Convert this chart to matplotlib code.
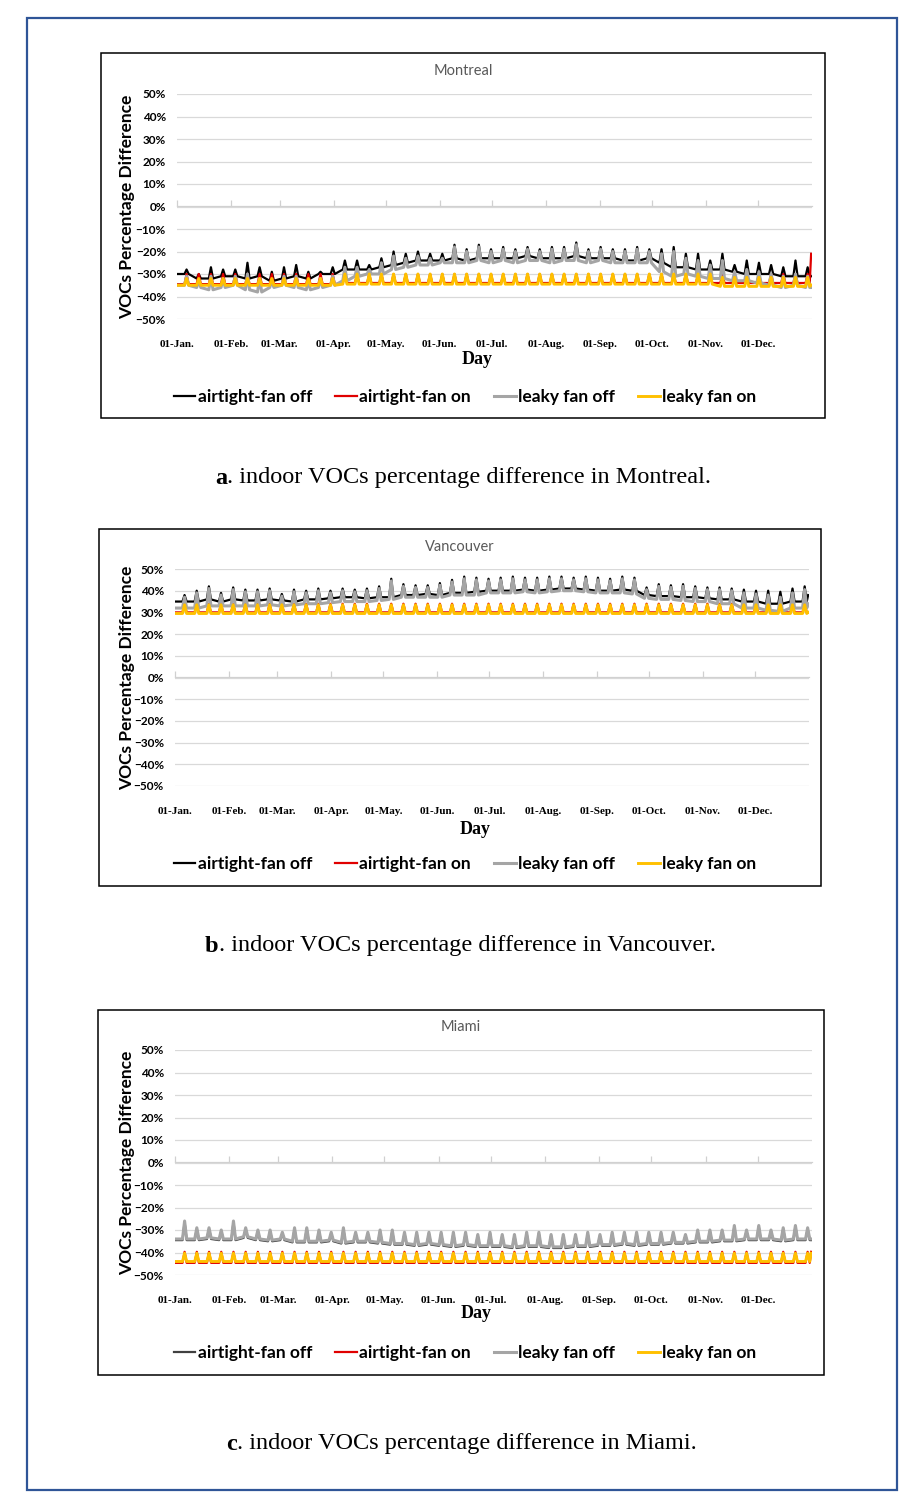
import numpy as np
import matplotlib
matplotlib.use("Agg")
import matplotlib.pyplot as plt
from matplotlib.patches import Rectangle

W, H = 915, 1509

# x axis: day of year, labels at the first day of each month
month_days = [0, 31, 59, 90, 120, 151, 181, 212, 243, 273, 304, 334]
month_labels = ['01-Jan.', '01-Feb.', '01-Mar.', '01-Apr.', '01-May.', '01-Jun.',
                '01-Jul.', '01-Aug.', '01-Sep.', '01-Oct.', '01-Nov.', '01-Dec.']
y_ticks = [-50, -40, -30, -20, -10, 0, 10, 20, 30, 40, 50]
y_labels = ['\u221250%', '\u221240%', '\u221230%', '\u221220%', '\u221210%', '0%',
            '10%', '20%', '30%', '40%', '50%']
series_names = ['airtight-fan off', 'airtight-fan on', 'leaky fan off', 'leaky fan on']

# ---- Montreal: weekly trough / peak values (%), 52 weeks ----
mtl_off_trough = [-30, -32, -32, -31, -31, -32, -31, -33, -32, -31, -32, -30, -30,
                  -28, -28, -28, -27, -26, -25, -24, -24, -24, -23, -24, -23, -23,
                  -23, -23, -22, -23, -23, -23, -22, -23, -23, -23, -24, -24, -23,
                  -25, -27, -27, -28, -28, -28, -29, -30, -30, -30, -31, -31, -31]
mtl_off_peak = [-28, -30, -27, -28, -28, -25, -27, -29, -27, -26, -29, -29, -27,
                -24, -24, -26, -23, -20, -21, -20, -21, -21, -17, -19, -17, -19,
                -18, -19, -18, -19, -18, -18, -16, -19, -18, -19, -19, -18, -19,
                -19, -18, -21, -21, -24, -21, -26, -24, -25, -26, -27, -24, -27]
mtl_on_trough = [-34.5, -34.5, -34.5, -34.5, -34.5, -34.5, -34.5, -34.5, -34.5, -34.5, -34.5, -34.5, -34.5,
                 -34, -34, -34, -34, -34, -34, -34, -34, -34, -34, -34, -34, -34,
                 -34, -34, -34, -34, -34, -34, -34, -34, -34, -34, -34, -34, -34,
                 -34, -34, -34, -34, -34, -34, -34, -34, -34, -34, -34, -34, -34]
mtl_on_peak = -30
mtl_leaky_off_trough = [-35, -36, -37, -36, -35, -37, -38, -36, -35, -36, -37, -36, -35,
                        -33, -31, -30, -30, -28, -27, -26, -26, -25, -25, -25, -24, -25,
                        -24, -25, -24, -24, -25, -24, -24, -25, -24, -25, -25, -25, -25,
                        -29, -31, -30, -31, -32, -32, -33, -33, -34, -35, -36, -35, -36]
mtl_leaky_off_peak = [-31, -33, -31, -32, -31, -30, -32, -33, -31, -31, -33, -32, -31,
                      -27, -27, -28, -25, -22, -23, -22, -23, -23, -18, -20, -18, -20,
                      -19, -20, -19, -20, -19, -19, -17, -20, -19, -20, -20, -19, -20,
                      -21, -20, -23, -24, -26, -24, -29, -28, -29, -30, -31, -30, -31]
mtl_leaky_on_trough = [-35, -35, -35, -35, -35, -35, -35, -35, -35, -35, -35, -35, -35,
                       -34.5, -34.5, -34.5, -34.5, -34.5, -34.5, -34.5, -34.5, -34.5, -34.5, -34.5, -34.5, -34.5,
                       -34.5, -34.5, -34.5, -34.5, -34.5, -34.5, -34.5, -34.5, -34.5, -34.5, -34.5, -34.5, -34.5,
                       -34.5, -34.5, -34.5, -34.5, -34.5, -35.5, -35.5, -35.5, -35.5, -35.5, -35.5, -35.5, -35.5]
mtl_leaky_on_peak = [-32, -32, -32, -32, -32, -32, -32, -32, -32, -32, -32, -32, -32,
                     -30, -30, -30, -30, -30, -30, -30, -30, -30, -30, -30, -30, -30,
                     -30, -30, -30, -30, -30, -30, -30, -30, -30, -30, -30, -30, -30,
                     -30, -30, -30, -30, -30, -31.5, -31.5, -31.5, -31.5, -31.5, -31.5, -31.5, -31.5]
mtl_end = [-31, -21, -36, -35]

# ---- Vancouver ----
van_off_trough = [35, 35, 36, 35, 36, 35.5, 35.5, 36, 35.5, 35, 36, 36, 36.5,
                  37, 37, 36.5, 37, 37, 38, 38, 38.5, 38, 39, 39, 39.5, 40,
                  40, 40, 40.5, 40, 40.5, 41, 41, 40.5, 40, 40, 40.5, 40, 38,
                  37.5, 37.5, 37, 37, 36.5, 36, 36, 35, 35, 34, 34, 35, 35]
van_off_peak = [38, 40, 42, 39, 41.5, 40.5, 40.5, 41, 38.5, 40.5, 40, 41, 40,
                41, 40.5, 41, 42, 45.5, 43, 42.5, 42.5, 43.5, 45, 46.5, 46, 45.5,
                46, 46.5, 46, 46, 46.5, 46.5, 46, 46.5, 46, 45.5, 46.5, 46, 41.5,
                43, 42.5, 43, 42, 41.5, 41.5, 41, 40.5, 40, 40, 39.5, 41, 42]
van_on_trough = 30
van_on_peak = 34
van_leaky_off_trough = [32, 32, 33, 33, 33, 33, 33, 33.5, 33, 33.5, 34, 34, 34.5,
                        35, 35, 35, 35.5, 36, 37, 37, 37, 37, 38, 38, 38, 39,
                        39, 39, 39.5, 39, 39.5, 40, 40, 39.5, 39, 39, 39, 38.5, 36.5,
                        36, 36, 35.5, 35, 35, 34, 34, 32, 32, 31, 30.5, 32, 32]
van_leaky_off_peak = [37, 39, 41, 38, 40.5, 39.5, 39.5, 40, 37.5, 39.5, 39, 40, 39,
                      40, 39.5, 40, 41, 44.5, 42, 41.5, 41.5, 42.5, 44, 45.5, 45, 44.5,
                      45, 45.5, 45, 45, 45.5, 45.5, 45, 45.5, 45, 44.5, 45.5, 45, 40.5,
                      42, 41.5, 42, 41, 40.5, 40.5, 40, 39, 38.5, 38, 37, 39, 40.5]
van_leaky_on_trough = 29.5
van_leaky_on_peak = 33.5
van_end = [38, 30, 34, 30]

# ---- Miami ----
mia_off_trough = [-34.5, -34.5, -34, -34.5, -34.5, -33.5, -34.5, -35, -34.5, -35.5, -35.5, -35.5, -35,
                  -36, -35.5, -35.5, -36, -36.5, -36.5, -37, -36.5, -37, -37.5, -37, -37.5, -37.5,
                  -37.5, -38, -37.5, -37.5, -38, -38, -37.5, -37.5, -37, -37, -36.5, -37, -36.5,
                  -36.5, -36, -36, -35.5, -35.5, -35, -35, -34.5, -34.5, -34.5, -35, -34.5, -34.5]
mia_off_peak = [-26.5, -29.5, -29.5, -30.5, -26.5, -29.5, -30.5, -30.5, -31.5, -29.5, -29.5, -30.5, -31.5,
                -29.5, -31.5, -31.5, -30.5, -30.5, -31.5, -31.5, -31.5, -31.5, -31.5, -31.5, -32.5, -31.5,
                -32.5, -32.5, -31.5, -31.5, -32.5, -32.5, -32.5, -31.5, -32.5, -31.5, -31.5, -31.5, -31.5,
                -31.5, -31.5, -32.5, -30.5, -30.5, -30.5, -28.5, -30.5, -28.5, -30.5, -29.5, -28.5, -29.5]
mia_on_trough = -44.6
mia_on_peak = -39.7
mia_leaky_off_trough = [-34, -34, -33.5, -34, -34, -33, -34, -34.5, -34, -35, -35, -35, -34.5,
                        -35.5, -35, -35, -35.5, -36, -36, -36.5, -36, -36.5, -37, -36.5, -37, -37,
                        -37, -37.5, -37, -37, -37.5, -37.5, -37, -37, -36.5, -36.5, -36, -36.5, -36,
                        -36, -35.5, -35.5, -35, -35, -34.5, -34.5, -34, -34, -34, -34.5, -34, -34]
mia_leaky_off_peak = [-26, -29, -29, -30, -26, -29, -30, -30, -31, -29, -29, -30, -31,
                      -29, -31, -31, -30, -30, -31, -31, -31, -31, -31, -31, -32, -31,
                      -32, -32, -31, -31, -32, -32, -32, -31, -32, -31, -31, -31, -31,
                      -31, -31, -32, -30, -30, -30, -28, -30, -28, -30, -29, -28, -29]
mia_leaky_on_trough = -44
mia_leaky_on_peak = -40.3
mia_end = [-34.5, -39.7, -34, -40.3]


def weekly_path(trough, peak, end):
    # one sharp peak per week, flat-ish base between
    trough = np.broadcast_to(np.asarray(trough, float), (52,))
    peak = np.broadcast_to(np.asarray(peak, float), (52,))
    xs, ys = [0.0], [trough[0]]
    for w in range(52):
        xs += [7 * w + 4.3, 7 * w + 5.5, 7 * w + 6.7]
        ys += [trough[w], peak[w], trough[w]]
    xs.append(364.5)
    ys.append(end)
    return xs, ys


def fx(x):
    return x / W


def fy(y):
    return 1 - y / H


panels = [
    dict(title='Montreal', box=(101, 53, 825, 418), ax=(177, 94, 812, 319),
         title_y=71, day=(477, 360), leg_y=397, cap_y=478, cap_x=215, letter='a', city='Montreal',
         series=[(mtl_off_trough, mtl_off_peak), (mtl_on_trough, mtl_on_peak),
                 (mtl_leaky_off_trough, mtl_leaky_off_peak), (mtl_leaky_on_trough, mtl_leaky_on_peak)],
         end=mtl_end, c0='#000000'),
    dict(title='Vancouver', box=(99, 529, 821, 886), ax=(175, 569, 809, 786),
         title_y=547, day=(475, 829), leg_y=864, cap_y=946, cap_x=205, letter='b', city='Vancouver',
         series=[(van_off_trough, van_off_peak), (van_on_trough, van_on_peak),
                 (van_leaky_off_trough, van_leaky_off_peak), (van_leaky_on_trough, van_leaky_on_peak)],
         end=van_end, c0='#000000'),
    dict(title='Miami', box=(98, 1010, 824, 1375), ax=(175, 1050, 812, 1275),
         title_y=1027, day=(476, 1314), leg_y=1353, cap_y=1444, cap_x=226, letter='c', city='Miami',
         series=[(mia_off_trough, mia_off_peak), (mia_on_trough, mia_on_peak),
                 (mia_leaky_off_trough, mia_leaky_off_peak), (mia_leaky_on_trough, mia_leaky_on_peak)],
         end=mia_end, c0='#404040'),
]

fig = plt.figure(figsize=(W / 100, H / 100), dpi=100)

# outer blue frame
fig.patches.append(Rectangle((fx(27), fy(1490)), fx(897) - fx(27), fy(18) - fy(1490),
                             transform=fig.transFigure, fill=False, ec='#2F5597', lw=1.6))

sans = 'Lato'
serif = 'Liberation Serif'
axis_grey = '#D0D0D0'

for p in panels:
    l, t, r, b = p['box']
    fig.patches.append(Rectangle((fx(l), fy(b)), fx(r) - fx(l), fy(t) - fy(b),
                                 transform=fig.transFigure, fill=False, ec='black', lw=1.1))
    al, at, ar, ab = p['ax']
    ax = fig.add_axes([fx(al), fy(ab), fx(ar) - fx(al), fy(at) - fy(ab)])
    ax.set_xlim(0, 365)
    ax.set_ylim(-50, 50)
    for s in ax.spines.values():
        s.set_visible(False)
    ax.set_yticks(y_ticks)
    ax.set_yticklabels(y_labels, fontfamily=sans, fontweight='bold', fontsize=8.5)
    ax.yaxis.grid(True, color='#D9D9D9', lw=0.9)
    ax.set_axisbelow(True)
    ax.tick_params(axis='y', length=0, pad=8)
    ax.set_xticks(month_days)
    ax.set_xticklabels(month_labels, fontfamily=serif, fontweight='bold', fontsize=8)
    ax.tick_params(axis='x', length=0, pad=15)

    # axis line with tick marks at 0%
    sec = ax.secondary_xaxis(0.5)
    sec.set_xticks(month_days)
    sec.set_xticklabels([])
    sec.tick_params(axis='x', length=4, color=axis_grey, width=0.9)
    for s in sec.spines.values():
        s.set_edgecolor(axis_grey)
        s.set_linewidth(0.9)

    colors = [p['c0'], '#E00000', '#A5A5A5', '#FFC000']
    widths = [1.6, 1.6, 2.2, 2.1]
    handles = []
    for (tr, pk), e, c, lw, name in zip(p['series'], p['end'], colors, widths, series_names):
        xs, ys = weekly_path(tr, pk, e)
        ln, = ax.plot(xs, ys, color=c, lw=lw, label=name, solid_joinstyle='round')
        handles.append(ln)

    fig.text(fx((l + r) / 2), fy(p['title_y']), p['title'], ha='center', va='center',
             fontfamily=sans, fontsize=10.5, color='#595959')
    fig.text(fx(127), fy((at + ab) / 2), 'VOCs Percentage Difference', rotation=90,
             ha='center', va='center', fontfamily=sans, fontweight='bold', fontsize=12.5)
    fig.text(fx(p['day'][0]), fy(p['day'][1]), 'Day', ha='center', va='center',
             fontfamily=serif, fontweight='bold', fontsize=13)
    fig.legend(handles, series_names, loc='center', bbox_to_anchor=(fx(465), fy(p['leg_y'])),
               ncol=4, frameon=False, handlelength=1.25, handletextpad=0.12, columnspacing=1.35,
               prop={'family': sans, 'weight': 'bold', 'size': 12.5})

    # caption: bold letter + regular text
    lt = fig.text(fx(p['cap_x']), fy(p['cap_y']), p['letter'], ha='left', va='center',
                  fontfamily=serif, fontweight='bold', fontsize=17.5)
    fig.canvas.draw()
    bb = lt.get_window_extent()
    fig.text(bb.x1 / W, fy(p['cap_y']), '. indoor VOCs percentage difference in ' + p['city'] + '.',
             ha='left', va='center', fontfamily=serif, fontsize=17.5)

fig.savefig('out.png', dpi=100)
